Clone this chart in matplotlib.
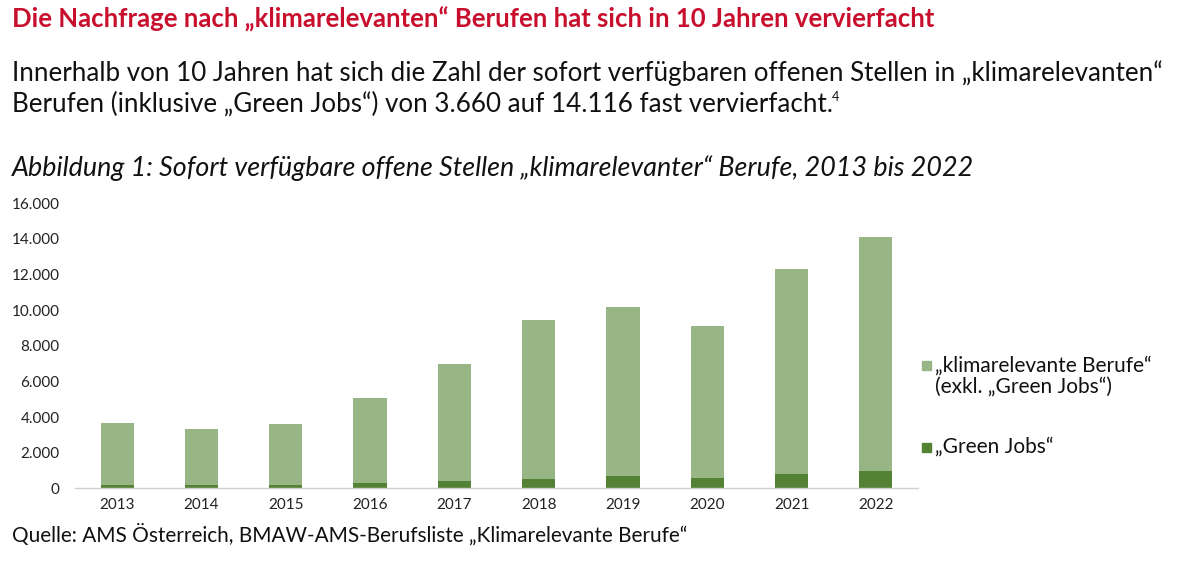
import matplotlib
matplotlib.use("Agg")
import matplotlib.pyplot as plt
from matplotlib.patches import Rectangle
from matplotlib.ticker import FuncFormatter

years = ["2013", "2014", "2015", "2016", "2017", "2018", "2019", "2020", "2021", "2022"]
green_jobs = [185, 185, 190, 315, 410, 520, 690, 580, 800, 950]
totals = [3660, 3350, 3590, 5090, 7000, 9430, 10180, 9110, 12330, 14116]
klima_excl = [t - g for t, g in zip(totals, green_jobs)]

legend_labels = ["\u201eklimarelevante Berufe\u201c\n(exkl. \u201eGreen Jobs\u201c)", "\u201eGreen Jobs\u201c"]
title = "Die Nachfrage nach \u201eklimarelevanten\u201c Berufen hat sich in 10 Jahren vervierfacht"
sub1 = "Innerhalb von 10 Jahren hat sich die Zahl der sofort verf\u00fcgbaren offenen Stellen in \u201eklimarelevanten\u201c"
sub2 = "Berufen (inklusive \u201eGreen Jobs\u201c) von 3.660 auf 14.116 fast vervierfacht."
caption = "Abbildung 1: Sofort verf\u00fcgbare offene Stellen \u201eklimarelevanter\u201c Berufe, 2013 bis 2022"
source = "Quelle: AMS \u00d6sterreich, BMAW-AMS-Berufsliste \u201eKlimarelevante Berufe\u201c"

LIGHT = "#98B585"
DARK = "#548235"
RED = "#C8102E"
FONT = "Lato"

W, H = 1200, 564
fig = plt.figure(figsize=(12, 5.64), dpi=100)
plt.rcParams['font.family'] = [FONT, 'DejaVu Sans']

ax = fig.add_axes([75 / W, 1 - 488.3 / H, (918 - 75) / W, (488.3 - 203.3) / H])
x = list(range(len(years)))
ax.bar(x, green_jobs, width=0.395, color=DARK, zorder=2)
ax.bar(x, klima_excl, width=0.395, bottom=green_jobs, color=LIGHT, zorder=2)
ax.set_xlim(-0.5, len(years) - 0.5)
ax.set_ylim(0, 16000)
ax.set_yticks(range(0, 16001, 2000))
ax.yaxis.set_major_formatter(FuncFormatter(lambda v, p: f"{int(v):,}".replace(",", ".")))
ax.set_xticks(x)
ax.set_xticklabels(years)
for s in ["top", "left", "right"]:
    ax.spines[s].set_visible(False)
ax.spines["bottom"].set_color("#D0D0D0")
ax.spines["bottom"].set_linewidth(1.0)
ax.tick_params(axis="both", length=0, labelsize=11, colors="#222222")
ax.tick_params(axis="y", pad=11)
ax.tick_params(axis="x", pad=7)

renderer = fig.canvas.get_renderer()

def fit_text(x0, ycen, s, target_w, base=14, va="center", **kw):
    t = fig.text(x0 / W, 1 - ycen / H, s, ha="left", va=va, fontsize=base, **kw)
    bb = t.get_window_extent(renderer=renderer)
    t.set_fontsize(base * target_w / bb.width)
    return t

fit_text(12, 19, title, 928, color=RED, fontweight="bold")
fit_text(12, 73, sub1, 1153, color="#111111")
t2 = fit_text(12, 104, sub2, 822, color="#111111")
bb2 = t2.get_window_extent(renderer=renderer)
fig.text((bb2.x1 - 1) / W, 1 - 97 / H, "4", ha="left", va="center", fontsize=9, color="#111111")
fit_text(12, 168, caption, 968, color="#111111", fontstyle="italic")
fit_text(12, 534, source, 678, color="#111111")

# legend
for (yc, col) in [(365, LIGHT), (447, DARK)]:
    fig.patches.append(Rectangle((922 / W, 1 - (yc + 4.5) / H), 9 / W, 9 / H,
                                 transform=fig.transFigure, color=col, figure=fig))
lt = fit_text(935, 356, legend_labels[0], 217, va="top", color="#111111", linespacing=1.1)
fig.text(935 / W, 1 - 447 / H, legend_labels[1], ha="left", va="center",
         fontsize=lt.get_fontsize(), color="#111111")

fig.savefig("out.png", dpi=100, facecolor="white")
